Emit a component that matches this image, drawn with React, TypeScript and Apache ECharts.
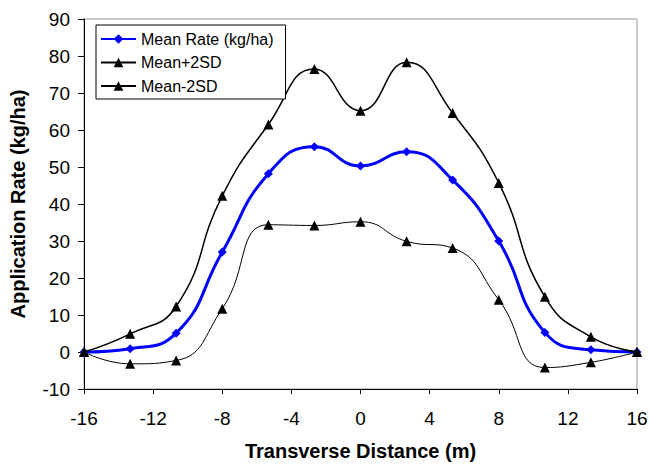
import React, { useEffect, useRef } from "react";
import * as echarts from "echarts";

const xPositions = [-16, -13.33, -10.67, -8, -5.33, -2.67, 0, 2.67, 5.33, 8, 10.67, 13.33, 16];
const meanRate = [0, 0.9, 5.1, 27.0, 48.2, 55.5, 50.3, 54.1, 46.5, 30.0, 5.3, 0.6, 0];
const meanPlus2SD = [0, 4.9, 12.3, 42.2, 61.5, 76.5, 65.2, 78.3, 64.6, 45.7, 14.9, 4.1, 0];
const meanMinus2SD = [0, -3.2, -2.3, 11.7, 34.4, 34.2, 35.2, 29.9, 28.1, 14.1, -4.2, -2.8, 0];
const seriesNames = ["Mean Rate (kg/ha)", "Mean+2SD", "Mean-2SD"];

const FONT = "'Liberation Sans', Arial, sans-serif";

const pairs = (ys: number[]) => xPositions.map((x, i) => [x, ys[i]]);

export default function App() {
  const ref = useRef<HTMLDivElement>(null);
  useEffect(() => {
    if (!ref.current) return;
    const chart = echarts.init(ref.current, undefined, { renderer: "svg" });
    chart.setOption({
      animation: false,
      backgroundColor: "#ffffff",
      textStyle: { fontFamily: FONT },
      grid: {
        left: 84,
        right: 14,
        top: 19,
        bottom: 77,
        show: true,
        borderColor: "#999999",
        borderWidth: 1,
        backgroundColor: "transparent",
      },
      legend: {
        orient: "vertical",
        left: 96,
        top: 25,
        padding: [6, 12, 5, 4],
        borderColor: "#000000",
        borderWidth: 1,
        backgroundColor: "#ffffff",
        itemWidth: 35,
        itemHeight: 12,
        itemGap: 7.5,
        data: seriesNames,
        textStyle: { fontFamily: FONT, fontSize: 16, color: "#000", lineHeight: 16 },
      },
      xAxis: {
        type: "value",
        min: -16,
        max: 16,
        interval: 4,
        name: "Transverse Distance (m)",
        nameLocation: "middle",
        nameGap: 52,
        nameTextStyle: { fontFamily: FONT, fontSize: 20, fontWeight: "bold", color: "#000" },
        axisLine: { show: true, onZero: false, lineStyle: { color: "#000", width: 1 } },
        axisTick: { show: true, inside: false, length: 5, lineStyle: { color: "#000" } },
        axisLabel: { fontFamily: FONT, fontSize: 19, color: "#000", margin: 20 },
        splitLine: { show: false },
      },
      yAxis: {
        type: "value",
        min: -10,
        max: 90,
        interval: 10,
        name: "Application Rate (kg/ha)",
        nameLocation: "middle",
        nameGap: 56,
        nameTextStyle: { fontFamily: FONT, fontSize: 20, fontWeight: "bold", color: "#000" },
        axisLine: { show: true, onZero: false, lineStyle: { color: "#000", width: 1 } },
        axisTick: { show: true, inside: false, length: 6, lineStyle: { color: "#000" } },
        axisLabel: { fontFamily: FONT, fontSize: 19, color: "#000", margin: 14 },
        splitLine: { show: false },
      },
      series: [
        {
          name: seriesNames[0],
          type: "line",
          data: pairs(meanRate),
          smooth: 0.5,
          symbol: "diamond",
          symbolSize: 9,
          lineStyle: { color: "#0000ff", width: 3 },
          itemStyle: { color: "#0000ff" },
          z: 2,
        },
        {
          name: seriesNames[1],
          type: "line",
          data: pairs(meanPlus2SD),
          smooth: 0.5,
          symbol: "triangle",
          symbolSize: 10,
          lineStyle: { color: "#000000", width: 1.5 },
          itemStyle: { color: "#000000" },
          z: 3,
        },
        {
          name: seriesNames[2],
          type: "line",
          data: pairs(meanMinus2SD),
          smooth: 0.5,
          symbol: "triangle",
          symbolSize: 10,
          lineStyle: { color: "#000000", width: 1 },
          itemStyle: { color: "#000000" },
          z: 4,
        },
      ],
    });
    return () => chart.dispose();
  }, []);
  return <div ref={ref} style={{ width: 651, height: 466, position: "absolute", left: 0, top: 0 }} />;
}
